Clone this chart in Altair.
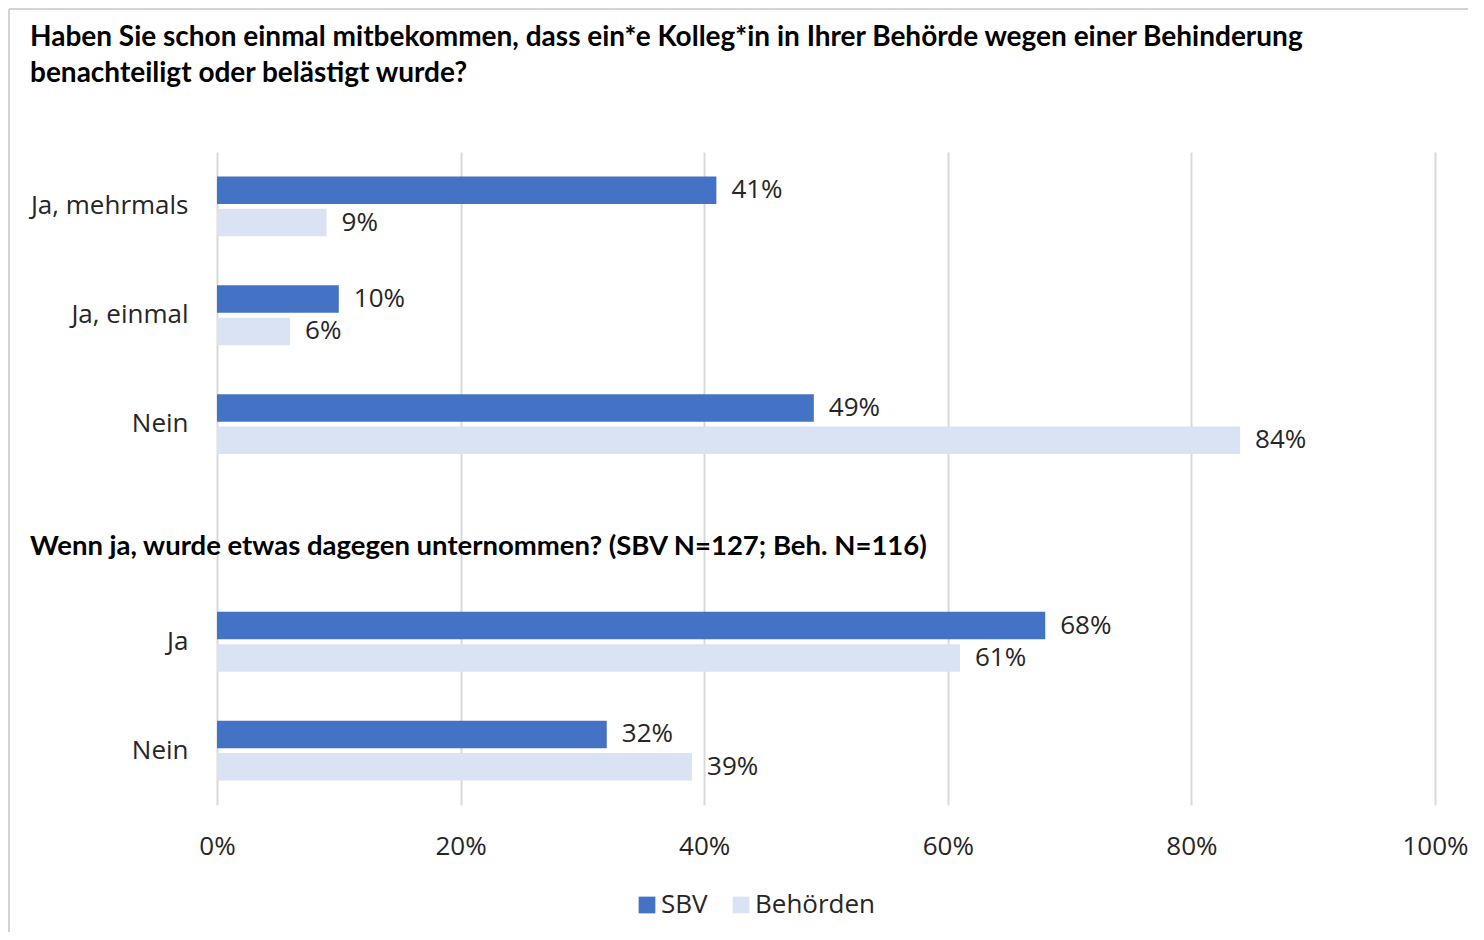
import altair as alt
import pandas as pd

# ---- data ----
categories = ["Ja, mehrmals", "Ja, einmal", "Nein", "Ja", "Nein"]
sbv = [41, 10, 49, 68, 32]
behoerden = [9, 6, 84, 61, 39]
series = ["SBV", "Behörden"]
x_ticks = [0, 20, 40, 60, 80, 100]

title_lines = [
    "Haben Sie schon einmal mitbekommen, dass ein*e Kolleg*in in Ihrer Behörde wegen einer Behinderung",
    "benachteiligt oder belästigt wurde?",
]
subtitle = "Wenn ja, wurde etwas dagegen unternommen? (SBV N=127; Beh. N=116)"

# unique slot keys (second "Nein" gets a zero-width space), plus an empty slot for the subtitle
gap_key = " "
keys = ["Ja, mehrmals", "Ja, einmal", "Nein", "Ja", "Nein\u200b"]
domain = keys[:3] + [gap_key] + keys[3:]

rows = []
for k, a, b in zip(keys, sbv, behoerden):
    rows.append({"slot": k, "series": "SBV", "value": a, "label": f"{a}%"})
    rows.append({"slot": k, "series": "Behörden", "value": b, "label": f"{b}%"})
df = pd.DataFrame(rows)
sub_df = pd.DataFrame({"slot": [gap_key], "text": [subtitle]})
border_df = pd.DataFrame({"k": [0]})

FONT = "Open Sans"
BOLD = "Lato"
FS = 26
TXT = "#262626"

y_enc = alt.Y("slot:N", scale=alt.Scale(domain=domain, paddingInner=0.45, paddingOuter=0.225),
              axis=alt.Axis(title=None, labelFontSize=FS, labelFont=FONT, labelColor=TXT,
                            labelPadding=29, ticks=False, domain=False, grid=False))
x_enc = alt.X("value:Q", scale=alt.Scale(domain=[0, 100], nice=False),
              axis=alt.Axis(title=None, values=x_ticks, labelExpr="datum.value + '%'",
                            labelFontSize=FS, labelFont=FONT, labelColor=TXT, labelFlush=False,
                            labelPadding=28, ticks=False, domain=False,
                            grid=True, gridColor="#d9d9d9", gridWidth=2))
yoff = alt.YOffset("series:N", scale=alt.Scale(domain=series, paddingInner=0.15))

bars = alt.Chart(df).mark_bar().encode(
    x=x_enc, y=y_enc, yOffset=yoff,
    color=alt.Color("series:N", scale=alt.Scale(domain=series, range=["#4472C4", "#DAE3F3"]),
                    legend=alt.Legend(title=None, orient="none", legendX=417, legendY=740,
                                      direction="horizontal", symbolType="square", symbolSize=280,
                                      symbolStrokeWidth=0, labelFontSize=FS, labelFont=FONT,
                                      labelColor=TXT, labelOffset=1, columnPadding=20)),
)

labels = alt.Chart(df).mark_text(align="left", baseline="middle", dx=15, fontSize=FS,
                                 font=FONT, color=TXT).encode(
    x="value:Q", y=alt.Y("slot:N"), yOffset=yoff, text="label:N")

sub = alt.Chart(sub_df).mark_text(align="left", baseline="middle", dy=14, fontSize=27.5,
                                  font=BOLD, fontWeight="bold", color="#000000").encode(
    x=alt.value(-187), y=alt.Y("slot:N"), text="text:N")

title1 = alt.Chart(border_df).mark_text(align="left", baseline="middle", fontSize=28,
                                        font=BOLD, fontWeight="bold", color="#000000",
                                        text=title_lines[0]).encode(
    x=alt.value(-187), y=alt.value(-114))
title2 = alt.Chart(border_df).mark_text(align="left", baseline="middle", fontSize=28,
                                        font=BOLD, fontWeight="bold", color="#000000",
                                        text=title_lines[1]).encode(
    x=alt.value(-187), y=alt.value(-78))

left_border = alt.Chart(border_df).mark_rule(color="#d4d4d4", strokeWidth=2).encode(
    x=alt.value(-208), y=alt.value(-143), y2=alt.value(800))
top_border = alt.Chart(border_df).mark_rule(color="#d4d4d4", strokeWidth=2).encode(
    x=alt.value(-208), x2=alt.value(1300), y=alt.value(-143))

chart = alt.layer(left_border, top_border, bars, labels, sub, title1, title2).properties(
    width=1218, height=653,
    autosize=alt.AutoSizeParams(type="none"),
    padding={"left": 209, "top": 144, "right": 33, "bottom": 127},
).configure_view(stroke=None)

chart.save("out.html", embed_options={"renderer": "svg", "actions": False})
